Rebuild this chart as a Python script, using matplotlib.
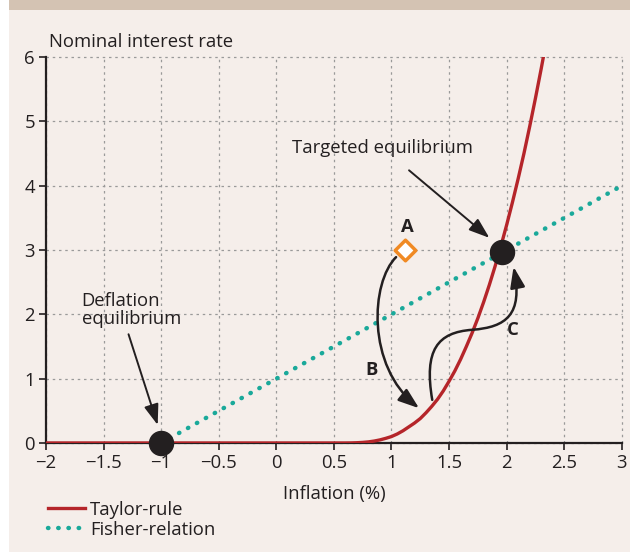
import matplotlib.pyplot as plt
from matplotlib.patches import Rectangle, FancyArrowPatch
from matplotlib.path import Path

plt.rcParams['font.family'] = ['Open Sans', 'DejaVu Sans']

# Taylor rule curve
taylor_x = [-2.0, 0.0, 0.6, 0.65, 0.7, 0.75, 0.8, 0.85, 0.9, 0.95, 1.0, 1.05, 1.1,
            1.15, 1.2, 1.25, 1.3, 1.35, 1.4, 1.45, 1.5, 1.55, 1.6, 1.65, 1.7, 1.75,
            1.8, 1.85, 1.9, 1.95, 2.0, 2.05, 2.1, 2.15, 2.2, 2.25, 2.3, 2.35]
taylor_y = [0.0, 0.0, 0.0, 0.001, 0.004, 0.009, 0.017, 0.03, 0.048, 0.072, 0.10,
            0.14, 0.19, 0.25, 0.31, 0.38, 0.47, 0.57, 0.68, 0.81, 0.96, 1.12, 1.30,
            1.50, 1.71, 1.94, 2.19, 2.46, 2.75, 3.06, 3.39, 3.74, 4.11, 4.50, 4.92,
            5.36, 5.82, 6.3]

# Fisher relation
fisher_x = [-1.0, 3.0]
fisher_y = [0.0, 4.0]

# equilibria and starting point
eq_x = [-1.0, 1.96]
eq_y = [0.0, 2.97]
a_x, a_y = 1.12, 3.0

xticks = [-2, -1.5, -1, -0.5, 0, 0.5, 1, 1.5, 2, 2.5, 3]
yticks = [0, 1, 2, 3, 4, 5, 6]

panel = '#F5EEEA'
red = '#B5252A'
teal = '#1AA99A'
orange = '#F08A24'
dark = '#231F20'
fs = 13.3
head = '-|>,head_length=0.9,head_width=0.32'

fig = plt.figure(figsize=(6.3, 5.52), dpi=100, facecolor='white')
fig.patches.append(Rectangle((9 / 630, 0), 1, 1 - 10 / 552, transform=fig.transFigure,
                             facecolor=panel, edgecolor='none', zorder=-10))
fig.patches.append(Rectangle((9 / 630, 1 - 10 / 552), 1, 10 / 552, transform=fig.transFigure,
                             facecolor='#D4C3B3', edgecolor='none', zorder=-10))

ax = fig.add_axes([0.073, 0.1975, 0.914, 0.699])
ax.set_facecolor(panel)
ax.set_xlim(-2, 3)
ax.set_ylim(0, 6)
ax.set_xticks(xticks)
ax.set_yticks(yticks)
ax.set_xticklabels(['\u22122', '\u22121.5', '\u22121', '\u22120.5', '0', '0.5', '1', '1.5', '2', '2.5', '3'])
ax.tick_params(labelsize=fs, length=5, width=1.2, color=dark, labelcolor=dark,
               direction='out', pad=3)
for s in ['top', 'right']:
    ax.spines[s].set_visible(False)
for s in ['left', 'bottom']:
    ax.spines[s].set_linewidth(1.6)
    ax.spines[s].set_color(dark)
ax.grid(True, linestyle=(0, (2, 3)), color='#9A9A9A', linewidth=0.9, clip_on=False)
ax.set_axisbelow(True)

ax.plot(fisher_x, fisher_y, color=teal, linestyle=(0, (0.1, 2.2)), linewidth=3.2,
        dash_capstyle='round', zorder=3, label='Fisher-relation')
ax.plot(taylor_x, taylor_y, color=red, linewidth=2.4, zorder=4, label='Taylor-rule',
        solid_joinstyle='round')

ax.scatter(eq_x, eq_y, s=300, color=dark, zorder=6, clip_on=False)
ax.scatter([a_x], [a_y], s=110, marker='D', facecolor='white', edgecolor=orange,
           linewidth=2.5, zorder=6)

ax.text(a_x + 0.02, a_y + 0.22, 'A', fontsize=fs, fontweight='bold', color=dark,
        ha='center', va='bottom')
ax.text(0.83, 1.14, 'B', fontsize=fs, fontweight='bold', color=dark, ha='center', va='center')
ax.text(2.05, 1.76, 'C', fontsize=fs, fontweight='bold', color=dark, ha='center', va='center')

# B arrow
b_path = Path([(1.04, 2.89), (0.82, 2.5), (0.78, 1.2), (1.24, 0.54)],
              [Path.MOVETO, Path.CURVE4, Path.CURVE4, Path.CURVE4])
ax.add_patch(FancyArrowPatch(path=b_path, arrowstyle=head,
                             color=dark, lw=1.8, mutation_scale=14, zorder=5))

# C arrow, S-shaped
c_path = Path([(1.354, 0.67), (1.28, 1.45), (1.40, 1.72), (1.70, 1.76),
               (2.0, 1.80), (2.14, 2.0), (2.06, 2.74)],
              [Path.MOVETO, Path.CURVE4, Path.CURVE4, Path.CURVE4,
               Path.CURVE4, Path.CURVE4, Path.CURVE4])
ax.add_patch(FancyArrowPatch(path=c_path, arrowstyle=head,
                             color=dark, lw=1.8, mutation_scale=14, zorder=5))

ax.annotate('Targeted equilibrium', xy=(1.85, 3.19), xytext=(0.92, 4.59),
            fontsize=fs, color=dark, ha='center', va='center',
            arrowprops=dict(arrowstyle=head, color=dark,
                            lw=1.4, mutation_scale=14, shrinkA=12, shrinkB=0))
ax.annotate('Deflation\nequilibrium', xy=(-1.03, 0.28), xytext=(-1.69, 2.07),
            fontsize=fs, color=dark, ha='left', va='center', linespacing=0.95,
            arrowprops=dict(arrowstyle=head, color=dark,
                            lw=1.4, mutation_scale=14, shrinkA=3, shrinkB=0,
                            relpos=(0.45, 0.0)))

ax.text(-1.97, 6.1, 'Nominal interest rate', fontsize=fs, color=dark, ha='left', va='bottom')
ax.set_xlabel('Inflation (%)', fontsize=fs, color=dark, labelpad=9)

handles, labels = ax.get_legend_handles_labels()
fig.legend(handles[::-1], labels[::-1], loc='upper left', bbox_to_anchor=(0.064, 0.106),
           frameon=False, fontsize=fs, handlelength=2.0, handletextpad=0.3,
           labelspacing=0.1, borderaxespad=0, labelcolor=dark)

fig.savefig('out.png', dpi=100, facecolor=fig.get_facecolor())
